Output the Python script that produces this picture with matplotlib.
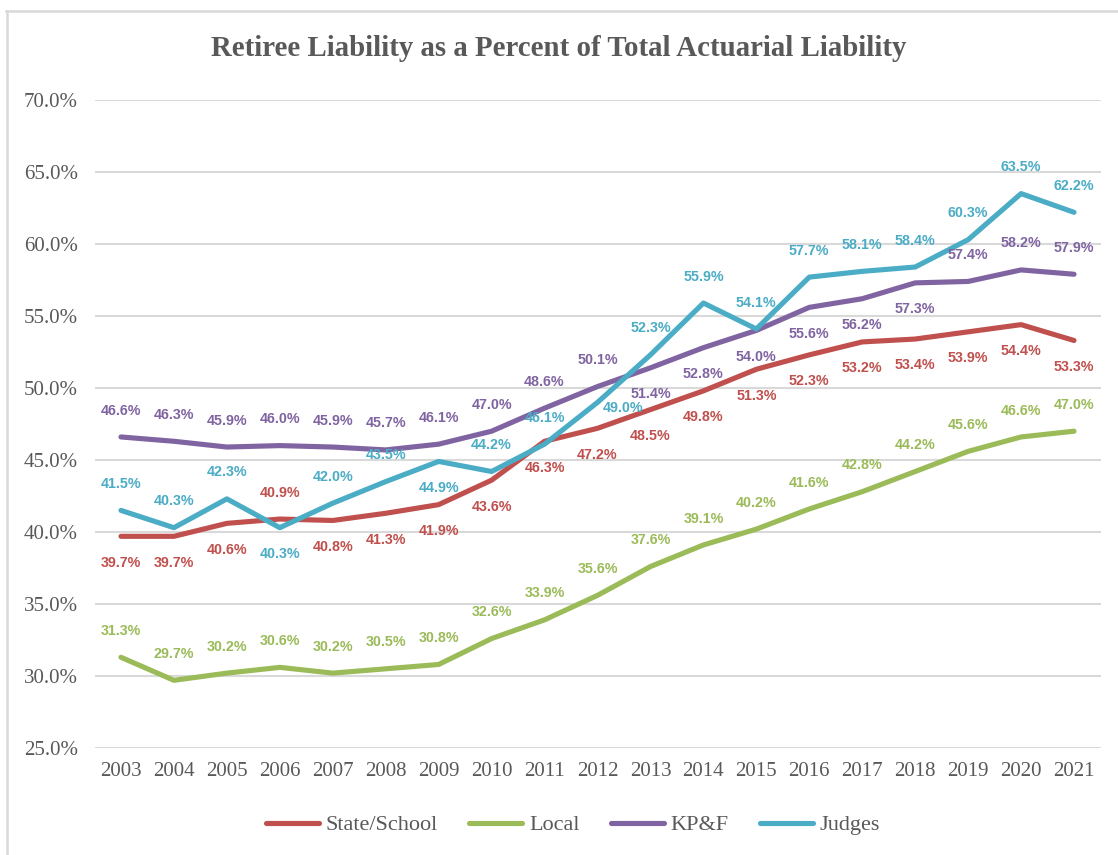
import matplotlib
matplotlib.use("Agg")
import matplotlib.pyplot as plt
from matplotlib.lines import Line2D
from matplotlib.ticker import FuncFormatter

years = [str(y) for y in range(2003, 2022)]
state_school = [39.7, 39.7, 40.6, 40.9, 40.8, 41.3, 41.9, 43.6, 46.3, 47.2, 48.5, 49.8, 51.3, 52.3, 53.2, 53.4, 53.9, 54.4, 53.3]
local = [31.3, 29.7, 30.2, 30.6, 30.2, 30.5, 30.8, 32.6, 33.9, 35.6, 37.6, 39.1, 40.2, 41.6, 42.8, 44.2, 45.6, 46.6, 47.0]
kpf = [46.6, 46.3, 45.9, 46.0, 45.9, 45.7, 46.1, 47.0, 48.6, 50.1, 51.4, 52.8, 54.0, 55.6, 56.2, 57.3, 57.4, 58.2, 57.9]
judges = [41.5, 40.3, 42.3, 40.3, 42.0, 43.5, 44.9, 44.2, 46.1, 49.0, 52.3, 55.9, 54.1, 57.7, 58.1, 58.4, 60.3, 63.5, 62.2]

series_names = ["State/School", "Local", "KP&F", "Judges"]
colors = ["#C0504D", "#9BBB59", "#8064A2", "#4BACC6"]

# label placement per point: 'a' above, 'b' below, 'r' right
pos_state = ["b", "b", "b", "a"] + ["b"] * 15
pos_local = ["a"] * 19
pos_kpf = ["a"] * 10 + ["b"] * 6 + ["a"] * 3
pos_judges = ["a", "a", "a", "b", "a", "a", "b", "a", "a", "r"] + ["a"] * 9

W, H = 1118, 855
fig = plt.figure(figsize=(W / 100, H / 100), dpi=100)
ax = fig.add_axes([94.5 / W, 1 - 748 / H, (1100.5 - 94.5) / W, (748 - 100) / H])

x = list(range(len(years)))
all_series = [state_school, local, kpf, judges]
all_pos = [pos_state, pos_local, pos_kpf, pos_judges]

for vals, c, name in zip(all_series, colors, series_names):
    ax.plot(x, vals, color=c, lw=3.7, solid_capstyle="round",
            solid_joinstyle="round", label=name, zorder=3)

for vals, c, poss in zip(all_series, colors, all_pos):
    for xi, v, p in zip(x, vals, poss):
        if p == "a":
            off, ha, va = (0, 14), "center", "bottom"
        elif p == "b":
            off, ha, va = (0, -14), "center", "top"
        else:
            off, ha, va = (4, -4), "left", "center"
        ax.annotate(f"{v:.1f}%", (xi, v), xytext=off, textcoords="offset points",
                    ha=ha, va=va, color=c, fontsize=10.3, fontweight="bold",
                    family="Liberation Sans", zorder=4)

ax.set_xlim(-0.5, len(years) - 0.5)
ax.set_ylim(25, 70)
ax.set_yticks([25, 30, 35, 40, 45, 50, 55, 60, 65, 70])
ax.yaxis.set_major_formatter(FuncFormatter(lambda v, _: f"{v:.1f}%"))
ax.set_xticks(x)
ax.set_xticklabels(years)
ax.grid(axis="y", color="#D9D9D9", lw=1.5, zorder=0)
ax.set_axisbelow(True)
for s in ax.spines.values():
    s.set_visible(False)
ax.tick_params(axis="both", length=0, labelsize=15, labelcolor="#595959")
ax.tick_params(axis="y", pad=12)
ax.tick_params(axis="x", pad=10)
for lab in ax.get_xticklabels() + ax.get_yticklabels():
    lab.set_family("Liberation Serif")

fig.text(0.5, 1 - 49 / H, "Retiree Liability as a Percent of Total Actuarial Liability",
         ha="center", va="center", fontsize=20.8, fontweight="bold",
         family="Liberation Serif", color="#595959")

handles = [Line2D([], [], color=c, lw=3.7, solid_capstyle="round") for c in colors]
leg = fig.legend(handles, series_names, loc="center", bbox_to_anchor=(573 / W, 1 - 825 / H),
                 ncol=4, frameon=False, handlelength=2.4, handletextpad=0.3,
                 columnspacing=1.4, prop={"family": "Liberation Serif", "size": 16})
for t in leg.get_texts():
    t.set_color("#595959")

# chart border (top and left)
fig.add_artist(Line2D([6 / W, 1], [1 - 11 / H, 1 - 11 / H], transform=fig.transFigure,
                      color="#D9D9D9", lw=1.8))
fig.add_artist(Line2D([7 / W, 7 / W], [0, 1 - 11 / H], transform=fig.transFigure,
                      color="#D9D9D9", lw=1.8))

fig.savefig("out.png", dpi=100)
